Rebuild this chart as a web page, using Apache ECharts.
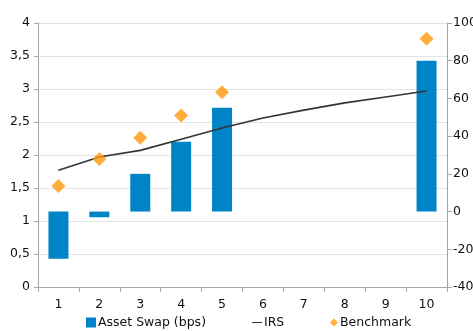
<!DOCTYPE html>
<html>
<head>
<meta charset="utf-8">
<script src="https://cdn.jsdelivr.net/npm/echarts@6/dist/echarts.min.js"></script>
<style>
  html, body { margin: 0; padding: 0; background: #fff; }
  #chart { width: 473px; height: 331px; }
</style>
</head>
<body>
<div id="chart"></div>
<script>
// Maturities (years)
var categories = ['1', '2', '3', '4', '5', '6', '7', '8', '9', '10'];
// Asset swap spread, bps (right axis)
var assetSwap = [-25, -3, 20, 37, 55, null, null, null, null, 80];
// IRS curve, % (left axis)
var irs = [1.77, 1.97, 2.07, 2.24, 2.41, 2.56, 2.68, 2.79, 2.88, 2.97];
// Benchmark yields, % (left axis)
var benchmark = [1.53, 1.94, 2.26, 2.6, 2.95, null, null, null, null, 3.76];

var FONT = 'DejaVu Sans';
var FS = 12.5;
var TXT = '#111111';
var BLUE = '#0084C8';
var ORANGE = '#FF9A0A';
var chart = echarts.init(document.getElementById('chart'), null, { renderer: 'canvas' });

function legendAt(left, item, size) {
  return {
    left: left,
    bottom: -3,
    itemWidth: size,
    itemHeight: size,
    selectedMode: false,
    textStyle: { fontFamily: FONT, fontSize: FS, color: TXT, padding: [0, 0, 0, -3] },
    data: [item]
  };
}

chart.setOption({
  animation: false,
  backgroundColor: '#ffffff',
  textStyle: { fontFamily: FONT },
  grid: { left: 38, right: 26, top: 23, bottom: 44, containLabel: false, outerBoundsMode: 'none' },
  legend: [
    legendAt(81, { name: 'Asset Swap (bps)', icon: 'rect' }, 10),
    legendAt(247, { name: 'IRS', icon: 'path://M0,9 L20,9 L20,11 L0,11 Z' }, 10),
    legendAt(325, { name: 'Benchmark', icon: 'diamond', itemStyle: { color: ORANGE } }, 8)
  ],
  xAxis: {
    type: 'category',
    data: categories,
    boundaryGap: true,
    axisLine: { lineStyle: { color: '#a6a6a6' } },
    axisTick: { show: true, length: 5, lineStyle: { color: '#a6a6a6' } },
    axisLabel: { color: TXT, fontSize: FS, margin: 11, fontFamily: FONT }
  },
  yAxis: [
    {
      type: 'value',
      min: 0, max: 4, interval: 0.5,
      axisLine: { show: true, lineStyle: { color: '#a6a6a6' } },
      axisTick: { show: true, length: 4, lineStyle: { color: '#a6a6a6' } },
      axisLabel: {
        color: TXT, fontSize: FS, margin: 8, fontFamily: FONT,
        formatter: function (v) { return String(v).replace('.', ','); }
      },
      splitLine: { show: true, lineStyle: { color: '#e4e4e4' } }
    },
    {
      type: 'value',
      min: -40, max: 100, interval: 20,
      position: 'right',
      axisLine: { show: true, lineStyle: { color: '#a6a6a6' } },
      axisTick: { show: true, length: 5, lineStyle: { color: '#a6a6a6' } },
      axisLabel: { color: TXT, fontSize: FS, margin: 6, fontFamily: FONT },
      splitLine: { show: false }
    }
  ],
  series: [
    {
      name: 'Asset Swap (bps)',
      type: 'bar',
      yAxisIndex: 1,
      data: assetSwap,
      barWidth: 20,
      itemStyle: { color: BLUE }
    },
    {
      name: 'IRS',
      type: 'line',
      yAxisIndex: 0,
      data: irs,
      symbol: 'none',
      lineStyle: { color: '#333333', width: 1.6 },
      itemStyle: { color: '#333333' },
      z: 3
    },
    {
      name: 'Benchmark',
      type: 'scatter',
      yAxisIndex: 0,
      data: benchmark,
      symbol: 'diamond',
      symbolSize: [14, 14],
      itemStyle: { color: ORANGE },
      z: 4
    }
  ]
});
</script>
</body>
</html>
